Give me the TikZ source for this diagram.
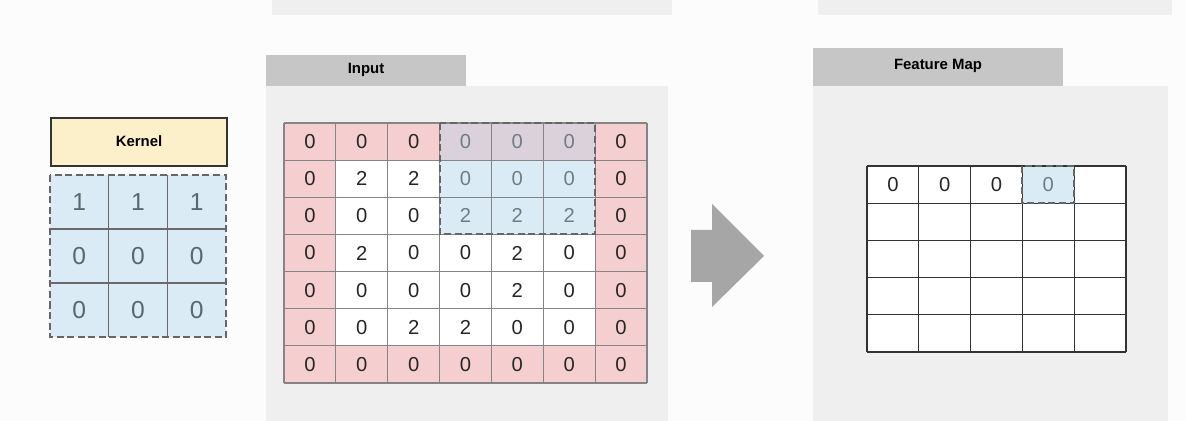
\documentclass[tikz,border=0pt]{standalone}
\usepackage{fontspec}
\setmainfont{Liberation Sans}
\usetikzlibrary{math}

\definecolor{panelgray}{HTML}{EFEFEF}
\definecolor{headgray}{HTML}{C6C6C6}
\definecolor{padpink}{HTML}{F5CFCF}
\definecolor{winblue}{HTML}{DBEBF5}
\definecolor{winmix}{HTML}{DBD1DA}
\definecolor{kernyellow}{HTML}{FCF0CB}
\definecolor{arrowgray}{HTML}{A6A6A6}
\definecolor{hltext}{HTML}{6E7D86}
\definecolor{kerntext}{HTML}{5A6670}
\definecolor{gridgray}{HTML}{858585}

\begin{document}
\begin{tikzpicture}[x=0.02cm, y=-0.02cm, line width=0.6pt,
    headtext/.style={font=\bfseries\fontsize{8.5}{10}\selectfont},
    digit/.style={font=\fontsize{11.5}{13}\selectfont, text=black!85},
    kdigit/.style={font=\fontsize{14}{16}\selectfont, text=kerntext},
    winframe/.style={draw=black!60, dashed, dash pattern=on 4pt off 2pt, line width=1.1pt}]
    \tikzmath{
        \ileft=284;
        \itop=123;
        \icw=363/7;
        \ich=260/7;
        \kleft=50;
        \ktop=175;
        \kcw=176/3;
        \kch=162/3;
        \fleft=867;
        \ftop=166;
        \fcw=259/5;
        \fch=186/5;
    }

    \useasboundingbox (0, 0) rectangle (1186, 421);
    \fill [white!99!black] (0, 0) rectangle (1186, 421);

    % panels left over at the top
    \fill [panelgray] (272, 0) rectangle (672, 15);
    \fill [panelgray] (818, 0) rectangle (1172, 15);

    % kernel
    \draw [fill=kernyellow, draw=black!80, line width=1.2pt] (51, 118) rectangle (227, 166);
    \node (kernelhdr) [headtext] at (139, 141) {Kernel};
    \fill [winblue] (\kleft, \ktop) rectangle ({\kleft+3*\kcw}, {\ktop+3*\kch});
    \foreach \i in {1, 2} {
        \draw [gridgray!80!black, line width=0.7pt] ({\kleft+\i*\kcw}, \ktop) -- ++(0, {3*\kch});
        \draw [gridgray!80!black, line width=0.7pt] (\kleft, {\ktop+\i*\kch}) -- ++({3*\kcw}, 0);
    }
    \foreach \row [count=\r from 0] in {{1,1,1},{0,0,0},{0,0,0}} {
        \foreach \v [count=\c from 0] in \row {
            \node (k-\r-\c) [kdigit] at ({\kleft+(\c+0.5)*\kcw}, {\ktop+(\r+0.5)*\kch}) {\v};
        }
    }
    \draw [winframe] (\kleft, \ktop) rectangle ({\kleft+3*\kcw}, {\ktop+3*\kch});

    % input
    \fill [headgray] (266, 55) rectangle (466, 86);
    \node (inputhdr) [headtext] at (366, 70) {Input};
    \fill [panelgray] (266, 86) rectangle (668, 421);
    \fill [padpink] (\ileft, \itop) rectangle ({\ileft+7*\icw}, {\itop+7*\ich});
    \fill [white] ({\ileft+\icw}, {\itop+\ich}) rectangle ({\ileft+6*\icw}, {\itop+6*\ich});
    \fill [winmix] ({\ileft+3*\icw}, \itop) rectangle ({\ileft+6*\icw}, {\itop+\ich});
    \fill [winblue] ({\ileft+3*\icw}, {\itop+\ich}) rectangle ({\ileft+6*\icw}, {\itop+3*\ich});
    \foreach \i in {0, ..., 7} {
        \draw [gridgray] ({\ileft+\i*\icw}, \itop) -- ++(0, {7*\ich});
        \draw [gridgray] (\ileft, {\itop+\i*\ich}) -- ++({7*\icw}, 0);
    }
    \foreach \row [count=\r from 0] in {{0,0,0,0,0,0,0},{0,2,2,0,0,0,0},{0,0,0,2,2,2,0},{0,2,0,0,2,0,0},{0,0,0,0,2,0,0},{0,0,2,2,0,0,0},{0,0,0,0,0,0,0}} {
        \foreach \v [count=\c from 0] in \row {
            \pgfmathtruncatemacro\hl{(\c>2)*(\c<6)*(\r<3)}
            \ifnum\hl=1 \def\tc{hltext}\else\def\tc{black!85}\fi
            \node (in-\r-\c) [digit, text=\tc] at ({\ileft+(\c+0.5)*\icw}, {\itop+(\r+0.5)*\ich}) {\v};
        }
    }
    \draw [winframe] ({\ileft+3*\icw}, \itop) rectangle ({\ileft+6*\icw}, {\itop+3*\ich});

    % arrow
    \fill [arrowgray] (691, 230) -- (712, 230) -- (712, 204) -- (764, 256) -- (712, 307) -- (712, 282) -- (691, 282) -- cycle;

    % feature map
    \fill [headgray] (813, 48) rectangle (1063, 86);
    \node (fmaphdr) [headtext] at (938, 66) {Feature Map};
    \fill [panelgray] (813, 86) rectangle (1168, 421);
    \fill [white] (\fleft, \ftop) rectangle ({\fleft+5*\fcw}, {\ftop+5*\fch});
    \fill [winblue] ({\fleft+3*\fcw}, \ftop) rectangle ({\fleft+4*\fcw}, {\ftop+\fch});
    \foreach \i in {0, ..., 5} {
        \draw [black!80] ({\fleft+\i*\fcw}, \ftop) -- ++(0, {5*\fch});
        \draw [black!80] (\fleft, {\ftop+\i*\fch}) -- ++({5*\fcw}, 0);
    }
    \foreach \c in {0, 1, 2} {
        \node (f-0-\c) [digit] at ({\fleft+(\c+0.5)*\fcw}, {\ftop+0.5*\fch}) {0};
    }
    \node (f-0-3) [digit, text=hltext] at ({\fleft+3.5*\fcw}, {\ftop+0.5*\fch}) {0};
    \draw [winframe] ({\fleft+3*\fcw}, \ftop) rectangle ({\fleft+4*\fcw}, {\ftop+\fch});
\end{tikzpicture}
\end{document}
